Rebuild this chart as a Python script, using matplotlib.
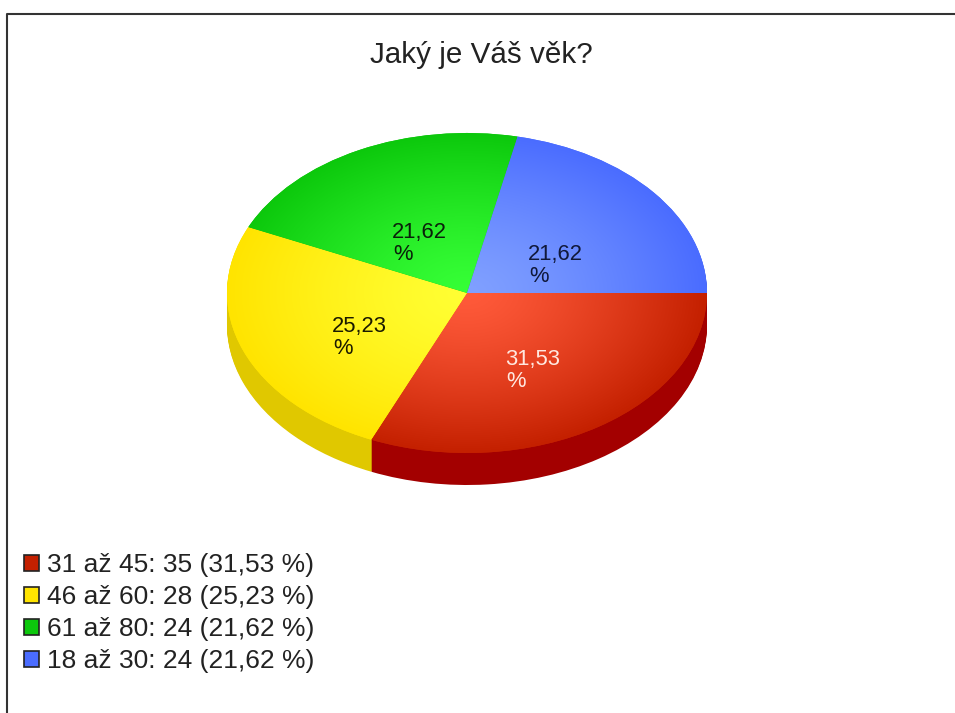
import numpy as np
import matplotlib
matplotlib.use('Agg')
import matplotlib.pyplot as plt
from matplotlib.colors import LinearSegmentedColormap
from matplotlib.lines import Line2D
from matplotlib.patches import Patch

plt.rcParams['font.family'] = ['Liberation Sans', 'DejaVu Sans']

title = 'Jaký je Váš věk?'
categories = ['31 až 45', '46 až 60', '61 až 80', '18 až 30']
counts = [35, 28, 24, 24]
percents = ['31,53', '25,23', '21,62', '21,62']

base_colors = ['#c42000', '#ffe400', '#0cc80c', '#4a6cff']
light_colors = ['#ff5a3a', '#ffff33', '#36ff36', '#80a0ff']
side_colors = ['#a30000', '#e0c800', '#0a9a0a', '#3a50c0']
label_colors = ['#ffe8e0', '#1a1a00', '#0a200a', '#10183a']

W, H = 955, 713
CX, CY, RX, RY = 467, 293, 240, 160
DEPTH = 32

# top left corner of each pie label, in pixels
label_pos = [(505, 349), (332, 316), (392, 222), (528, 244)]

fig = plt.figure(figsize=(W / 100, H / 100), dpi=100, facecolor='white')
ax = fig.add_axes([0, 0, 1, 1])


def px(x, y):
    return x / W, 1 - y / H


# side wall, same pie pushed down pixel by pixel
for d in np.arange(DEPTH, 0, -1.0):
    ax.pie(counts, radius=1, center=(0, -d / RY), startangle=0, counterclock=False,
           colors=side_colors, wedgeprops={'linewidth': 0})

wedges, _ = ax.pie(counts, radius=1, center=(0, 0), startangle=0, counterclock=False,
                   colors=base_colors, wedgeprops={'linewidth': 0})

ax.set_aspect('auto')
ax.set_xlim(-CX / RX, (W - CX) / RX)
ax.set_ylim((CY - H) / RY, CY / RY)
ax.axis('off')

xx, yy = np.meshgrid(np.linspace(-1, 1, 500), np.linspace(-1, 1, 500))
rr = np.clip(np.hypot(xx, yy), 0, 1) ** 1.3
for wedge, c0, c1 in zip(wedges, light_colors, base_colors):
    cmap = LinearSegmentedColormap.from_list('shade', [c0, c1])
    im = ax.imshow(rr, cmap=cmap, vmin=0, vmax=1, extent=(-1, 1, -1, 1), origin='lower',
                   aspect='auto', zorder=3, interpolation='bilinear')
    im.set_clip_path(wedge)

ax.set_aspect('auto')
ax.set_xlim(-CX / RX, (W - CX) / RX)
ax.set_ylim((CY - H) / RY, CY / RY)

for pct, pos, col in zip(percents, label_pos, label_colors):
    x, y = px(*pos)
    fig.text(x, y, pct, color=col, fontsize=15.8, va='top', ha='left', zorder=5)
    x, y = px(pos[0] + 1, pos[1] + 22)
    fig.text(x, y, '%', color=col, fontsize=15.8, va='top', ha='left', zorder=5)

tx, ty = px(481, 55)
fig.text(tx, ty, title, color='#222222', fontsize=21.3, ha='center', va='center')

# legend
handles = [Patch(facecolor=c, edgecolor='#222222', linewidth=1.2) for c in base_colors]
labels = [f'{c}: {n} ({p} %)' for c, n, p in zip(categories, counts, percents)]
fig.legend(handles, labels, loc='upper left', bbox_to_anchor=px(19, 548), frameon=False,
           fontsize=19, labelcolor='#222222', handlelength=0.57, handleheight=0.57,
           handletextpad=0.3, labelspacing=0.3, borderpad=0.2, borderaxespad=0)

# outer frame, only top and left show
fig.add_artist(Line2D([6.5 / W, 6.5 / W, 1], [0, 1 - 13.5 / H, 1 - 13.5 / H],
                      color='#333333', lw=1.5))

fig.savefig('out.png', dpi=100)
